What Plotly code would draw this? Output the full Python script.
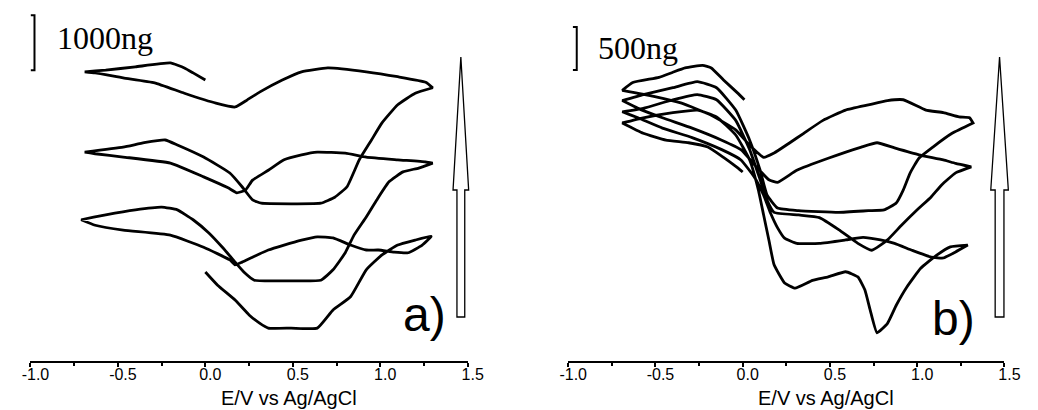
import plotly.graph_objects as go

# ---------------- Panel a) : potential (V vs Ag/AgCl) and mass change (ng), scans in order
a_E1 = [0.00, 0.07, 0.17, 0.25, 0.31, 0.36, 0.49, 0.64, 0.73, 0.83, 0.92, 1.01, 1.10, 1.20, 1.29]
a_m1 = [0, -240, -510, -780, -930, -1020, -1020, -1020, -690, -450, 40, 310, 490, 580, 650]
a_E2 = [1.29, 1.24, 1.16, 1.08, 0.99, 0.92, 0.83, 0.73, 0.64, 0.55, 0.45, 0.36, 0.27, 0.21, 0.17, 0.14, -0.01, -0.20, -0.47, -0.63, -0.71]
a_m2 = [640, 490, 350, 360, 400, 400, 490, 620, 640, 580, 490, 400, 270, 180, 130, 220, 450, 670, 760, 850, 950]
a_E3 = [-0.71, -0.57, -0.40, -0.25, -0.16, -0.07, 0.02, 0.10, 0.17, 0.22, 0.28, 0.46, 0.66, 0.73, 0.80, 0.85, 0.92, 0.98, 1.05, 1.13, 1.22, 1.30]
a_m3 = [950, 1040, 1130, 1180, 1130, 950, 710, 440, 180, 0, -150, -160, -150, 40, 350, 670, 1000, 1310, 1640, 1820, 1890, 1980]
a_E4 = [1.30, 1.26, 1.10, 0.92, 0.80, 0.64, 0.55, 0.45, 0.36, 0.27, 0.23, 0.18, 0.13, -0.01, -0.20, -0.47, -0.63, -0.69]
a_m4 = [1980, 2000, 2040, 2090, 2160, 2180, 2130, 2040, 1850, 1670, 1490, 1440, 1530, 1730, 1980, 2090, 2150, 2180]
a_E5 = [-0.69, -0.47, -0.35, -0.23, -0.16, -0.01, 0.14, 0.21, 0.27, 0.32, 0.49, 0.66, 0.74, 0.81, 0.88, 0.95, 1.01, 1.10, 1.20, 1.30]
a_m5 = [2180, 2270, 2350, 2400, 2310, 2090, 1800, 1550, 1310, 1250, 1240, 1250, 1360, 1550, 2040, 2400, 2710, 3040, 3250, 3350]
a_E6 = [1.30, 1.26, 1.10, 0.92, 0.70, 0.55, 0.44, 0.31, 0.24, 0.17, 0.06, -0.12, -0.29, -0.47, -0.63, -0.69]
a_m6 = [3350, 3450, 3550, 3640, 3710, 3640, 3490, 3270, 3130, 3000, 3070, 3250, 3440, 3530, 3620, 3640]
a_E7 = [-0.69, -0.57, -0.40, -0.20, -0.12, -0.07, 0.00]
a_m7 = [3640, 3670, 3730, 3800, 3710, 3620, 3490]

# ---------------- Panel b)
b_E1 = [0.00, -0.03, -0.11, -0.20, -0.31, -0.44, -0.57, -0.69]
b_m1 = [0, 50, 170, 290, 340, 370, 450, 570]
b_E2 = [-0.69, -0.57, -0.40, -0.26, -0.15, -0.04, 0.04, 0.09, 0.12, 0.15, 0.18, 0.24, 0.30, 0.40, 0.49, 0.59, 0.66, 0.70, 0.73, 0.77, 0.83, 0.88, 0.94, 1.02, 1.11, 1.19, 1.29]
b_m2 = [570, 630, 690, 720, 640, 430, 140, -210, -500, -790, -1080, -1290, -1350, -1260, -1220, -1160, -1220, -1370, -1600, -1870, -1760, -1550, -1340, -1120, -970, -870, -850]
b_E3 = [1.29, 1.22, 1.15, 1.08, 0.97, 0.87, 0.79, 0.69, 0.59, 0.44, 0.31, 0.24, 0.20, 0.16, 0.12, 0.07, -0.01, -0.12, -0.29, -0.46, -0.60, -0.69]
b_m3 = [-850, -930, -1000, -990, -910, -830, -790, -760, -790, -830, -830, -770, -650, -480, -270, -70, 140, 260, 400, 510, 630, 700]
b_E4 = [-0.69, -0.57, -0.40, -0.26, -0.15, -0.04, 0.04, 0.10, 0.14, 0.18, 0.32, 0.44, 0.55, 0.66, 0.74, 0.83, 0.91, 1.00, 1.08, 1.14, 1.22, 1.31]
b_m4 = [700, 740, 840, 900, 840, 600, 260, -90, -330, -470, -500, -530, -670, -830, -910, -790, -620, -440, -290, -150, -10, 60]
b_E5 = [1.31, 1.22, 1.15, 1.01, 0.87, 0.77, 0.68, 0.49, 0.31, 0.20, 0.15, 0.07, -0.01, -0.12, -0.29, -0.46, -0.60, -0.69]
b_m5 = [60, 100, 140, 200, 280, 340, 290, 160, 20, -120, -90, 80, 260, 370, 510, 630, 740, 830]
b_E6 = [-0.69, -0.57, -0.40, -0.26, -0.15, -0.04, 0.04, 0.10, 0.14, 0.20, 0.32, 0.55, 0.72, 0.81, 0.88, 0.92, 0.96, 1.01, 1.09, 1.20, 1.32]
b_m6 = [830, 900, 980, 1050, 980, 720, 370, 20, -270, -420, -450, -470, -450, -440, -360, -210, -10, 160, 290, 450, 570]
b_E7 = [1.32, 1.30, 1.24, 1.15, 1.05, 0.92, 0.83, 0.72, 0.59, 0.46, 0.35, 0.27, 0.18, 0.12, 0.04, -0.04, -0.18, -0.35, -0.51, -0.69]
b_m7 = [570, 630, 640, 690, 720, 840, 830, 780, 720, 600, 450, 340, 220, 170, 310, 490, 660, 800, 880, 950]
b_E8 = [-0.69, -0.63, -0.48, -0.40, -0.33, -0.23, -0.18, -0.11, -0.03, 0.01]
b_m8 = [950, 1040, 1100, 1160, 1210, 1240, 1210, 1070, 920, 840]

tick_vals = [-1.0, -0.5, 0.0, 0.5, 1.0, 1.5]
tick_text = ["-1.0", "-0.5", "0.0", "0.5", "1.0", "1.5"]
minor_vals = [-0.75, -0.25, 0.25, 0.75, 1.25]
x_title = "E/V vs Ag/AgCl"

a_E = a_E1 + a_E2 + a_E3 + a_E4 + a_E5 + a_E6 + a_E7
a_m = a_m1 + a_m2 + a_m3 + a_m4 + a_m5 + a_m6 + a_m7
b_E = b_E1 + b_E2 + b_E3 + b_E4 + b_E5 + b_E6 + b_E7 + b_E8
b_m = b_m1 + b_m2 + b_m3 + b_m4 + b_m5 + b_m6 + b_m7 + b_m8

W, H = 1038, 410


def P(x, y):
    return f"{x / W:.5f},{1 - y / H:.5f}"


fig = go.Figure()
line = dict(color="black", width=2.8, shape="spline", smoothing=0.4)
fig.add_trace(go.Scatter(x=a_E, y=a_m, mode="lines", line=line, xaxis="x", yaxis="y",
                         showlegend=False, hoverinfo="skip"))
fig.add_trace(go.Scatter(x=b_E, y=b_m, mode="lines", line=line, xaxis="x2", yaxis="y2",
                         showlegend=False, hoverinfo="skip"))

ydom = [(H - 361) / H, 1.0]
xcommon = dict(range=[-1.0, 1.5], showline=True, linecolor="black", linewidth=2,
               ticks="outside", ticklen=4, tickwidth=1.5, tickcolor="black",
               tickmode="array", tickvals=tick_vals, ticktext=tick_text,
               minor=dict(tickmode="array", tickvals=minor_vals, ticks="outside",
                          ticklen=3, tickwidth=1.5, tickcolor="black"),
               showgrid=False, zeroline=False, ticklabelshift=5, ticklabelstandoff=-6,
               tickfont=dict(family="Liberation Sans, Arial", size=16, color="black"))
fig.update_layout(
    width=W, height=H, margin=dict(l=0, r=0, t=0, b=0),
    paper_bgcolor="white", plot_bgcolor="white",
    xaxis=dict(domain=[22 / W, 470 / W], anchor="y", **xcommon),
    xaxis2=dict(domain=[573 / W, 1020 / W], anchor="y2", **xcommon),
    yaxis=dict(domain=ydom, range=[-1618, 4945], visible=False),
    yaxis2=dict(domain=ydom, range=[-2198, 2000], visible=False),
)

shapes = []
# scale bars (1000 ng and 500 ng)
shapes.append(dict(type="path", xref="x", yref="y",
                   path="M -0.999,4670 L -0.977,4670 L -0.977,3670 L -0.999,3670",
                   line=dict(color="black", width=2)))
shapes.append(dict(type="path", xref="x2", yref="y2",
                   path="M -0.973,1686 L -0.951,1686 L -0.951,1186 L -0.973,1186",
                   line=dict(color="black", width=2)))
# hollow arrows
for (cx, tip, base, bot, hw, sw) in [(463, 57, 190, 317, 8, 4), (1015, 57, 190, 317, 9, 4.5)]:
    path = ("M " + P(cx, tip) + " L " + P(cx + hw, base) + " L " + P(cx + sw, base) +
            " L " + P(cx + sw, bot) + " L " + P(cx - sw, bot) + " L " + P(cx - sw, base) +
            " L " + P(cx - hw, base) + " Z")
    shapes.append(dict(type="path", xref="paper", yref="paper", path=path,
                       line=dict(color="black", width=1.3), fillcolor="white"))
fig.update_layout(shapes=shapes)

ann = []
ann.append(dict(text="1000ng", x=47 / W, y=1 - 38 / H, xref="paper", yref="paper",
                xanchor="left", yanchor="middle", showarrow=False,
                font=dict(family="Liberation Serif", size=32, color="black")))
ann.append(dict(text="500ng", x=601 / W, y=1 - 48 / H, xref="paper", yref="paper",
                xanchor="left", yanchor="middle", showarrow=False,
                font=dict(family="Liberation Serif", size=32, color="black")))
ann.append(dict(text="a)", x=426 / W, y=1 - 314 / H, xref="paper", yref="paper",
                xanchor="center", yanchor="middle", showarrow=False,
                font=dict(family="Liberation Sans", size=48, color="black")))
ann.append(dict(text="b)", x=968 / W, y=1 - 318 / H, xref="paper", yref="paper",
                xanchor="center", yanchor="middle", showarrow=False,
                font=dict(family="Liberation Sans", size=48, color="black")))
ann.append(dict(text=x_title, x=0.48, xref="x", y=0, yref="paper",
                xanchor="center", yanchor="bottom", showarrow=False, borderpad=0,
                font=dict(family="Liberation Sans", size=20, color="black")))
ann.append(dict(text=x_title, x=0.475, xref="x2", y=0, yref="paper",
                xanchor="center", yanchor="bottom", showarrow=False, borderpad=0,
                font=dict(family="Liberation Sans", size=20, color="black")))
fig.update_layout(annotations=ann)

fig.write_html("out.html")
